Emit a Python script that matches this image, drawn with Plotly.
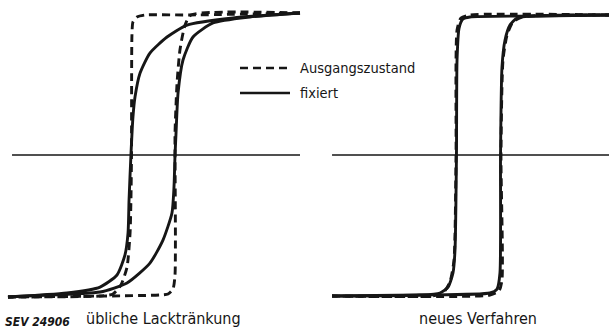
import plotly.graph_objects as go

# 1. data: H (field, arbitrary units) and B (induction, normalized)
FONT = "DejaVu Sans Condensed, Liberation Sans Narrow, Arial Narrow, sans-serif"
INK = "#161616"

# left panel: "übliche Lacktränkung"
left_dash_down_h = [1.019, 0.26, -0.05, -0.105, -0.133, -0.14, -0.143, -0.147, -0.153, -0.174, -0.216, -0.271, -0.36, -0.995]
left_dash_down_b = [1.0, 0.986, 0.986, 0.972, 0.937, 0.845, 0.0, -0.317, -0.549, -0.789, -0.915, -0.979, -0.993, -1.0]
left_dash_up_h = [-0.995, 0.053, 0.109, 0.143, 0.157, 0.157, 0.157, 0.171, 0.191, 0.226, 0.267, 1.019]
left_dash_up_b = [-1.0, -0.986, -0.979, -0.944, -0.845, 0.0, 0.155, 0.507, 0.739, 0.915, 0.986, 1.0]

left_fix_down_h = [1.019, 0.557, 0.24, 0.102, -0.016, -0.084, -0.119, -0.133, -0.147, -0.16, -0.167, -0.188, -0.243, -0.36, -0.588, -0.995]
left_fix_down_b = [1.0, 0.965, 0.915, 0.831, 0.718, 0.577, 0.408, 0.268, 0.0, -0.317, -0.549, -0.704, -0.845, -0.93, -0.972, -1.0]
left_fix_up_h = [-0.995, -0.822, -0.36, -0.174, -0.016, 0.074, 0.136, 0.15, 0.157, 0.164, 0.178, 0.212, 0.281, 0.419, 0.674, 1.019]
left_fix_up_b = [-1.0, -0.99, -0.965, -0.901, -0.761, -0.599, -0.408, -0.225, 0.0, 0.155, 0.437, 0.669, 0.831, 0.93, 0.972, 1.0]

# right panel: "neues Verfahren"
right_dash_down_h = [0.9, -0.059, -0.121, -0.148, -0.155, -0.169, -0.197, -0.245, -0.321, -1.01]
right_dash_down_b = [0.986, 0.986, 0.965, 0.88, 0.0, -0.739, -0.894, -0.972, -0.993, -0.993]
right_dash_up_h = [-1.01, 0.079, 0.141, 0.162, 0.155, 0.169, 0.197, 0.238, 0.3, 0.9]
right_dash_up_b = [-0.993, -0.986, -0.958, -0.88, 0.0, 0.669, 0.845, 0.937, 0.972, 0.986]

right_fix_down_h = [0.9, 0.403, -0.059, -0.107, -0.134, -0.148, -0.152, -0.162, -0.176, -0.21, -0.266, -0.403, -1.01]
right_fix_down_b = [0.986, 0.979, 0.972, 0.958, 0.894, 0.669, 0.0, -0.669, -0.831, -0.93, -0.972, -0.986, -0.993]
right_fix_up_h = [-1.01, -0.403, 0.079, 0.128, 0.148, 0.152, 0.162, 0.183, 0.217, 0.266, 0.403, 0.9]
right_fix_up_b = [-0.993, -0.986, -0.972, -0.944, -0.831, 0.0, 0.62, 0.81, 0.915, 0.965, 0.979, 0.986]

# horizontal (H) axis lines
left_axis_h = [-0.967, 1.019]
right_axis_h = [-1.01, 0.9]

LEGEND_LABELS = ["Ausgangszustand", "fixiert"]
PANEL_LABELS = ["übliche Lacktränkung", "neues Verfahren"]
FIG_ID = "SEV 24906"


# 2. helper for one curve
def curve(h, b, xa, ya, dashed):
    return go.Scatter(
        x=h, y=b, xaxis=xa, yaxis=ya, mode="lines",
        line=dict(color=INK, width=2.9, shape="spline", smoothing=0.6,
                  dash="8px,5px" if dashed else "solid"),
        hoverinfo="skip", showlegend=False,
    )


fig = go.Figure()

# 3. left panel
fig.add_trace(go.Scatter(x=left_axis_h, y=[0, 0], mode="lines", line=dict(color=INK, width=1.3),
                         hoverinfo="skip", showlegend=False))
fig.add_trace(curve(left_dash_down_h, left_dash_down_b, "x", "y", True))
fig.add_trace(curve(left_dash_up_h, left_dash_up_b, "x", "y", True))
fig.add_trace(curve(left_fix_down_h, left_fix_down_b, "x", "y", False))
fig.add_trace(curve(left_fix_up_h, left_fix_up_b, "x", "y", False))

# 4. right panel
fig.add_trace(go.Scatter(x=right_axis_h, y=[0, 0], xaxis="x2", yaxis="y2", mode="lines",
                         line=dict(color=INK, width=1.3), hoverinfo="skip", showlegend=False))
fig.add_trace(curve(right_dash_down_h, right_dash_down_b, "x2", "y2", True))
fig.add_trace(curve(right_dash_up_h, right_dash_up_b, "x2", "y2", True))
fig.add_trace(curve(right_fix_down_h, right_fix_down_b, "x2", "y2", False))
fig.add_trace(curve(right_fix_up_h, right_fix_up_b, "x2", "y2", False))

# 5. legend (drawn by hand, lines + text)
W, H = 609, 329
for i, (label, dash) in enumerate(zip(LEGEND_LABELS, ["8px,5px", "solid"])):
    yy = 1 - (68 + 25 * i) / H
    fig.add_shape(type="line", xref="paper", yref="paper", x0=240 / W, x1=290 / W, y0=yy, y1=yy,
                  line=dict(color=INK, width=2.6, dash=dash))
    fig.add_annotation(x=298 / W, y=yy, xref="paper", yref="paper", text=label, showarrow=False,
                       xanchor="left", yanchor="middle", font=dict(family=FONT, size=14.5, color=INK))

# 6. panel captions
for label, cx in zip(PANEL_LABELS, [163 / W, 478 / W]):
    fig.add_annotation(x=cx, y=1 - 318 / H, xref="paper", yref="paper", text=label, showarrow=False,
                       xanchor="center", yanchor="middle", font=dict(family=FONT, size=16, color=INK))
fig.add_annotation(x=3 / W, y=1 - 322 / H, xref="paper", yref="paper", text="<i><b>" + FIG_ID + "</b></i>",
                   showarrow=False, xanchor="left", yanchor="middle",
                   font=dict(family=FONT, size=12, color=INK))

# 7. axes / layout
y_range = [-174 / 142, 155 / 142]
fig.update_layout(
    width=W, height=H,
    margin=dict(l=0, r=0, t=0, b=0),
    paper_bgcolor="white", plot_bgcolor="white",
    xaxis=dict(domain=[0, 0.5], range=[-1.05, 1.05], visible=False),
    xaxis2=dict(domain=[0.5, 1], range=[-1.2, 0.9], visible=False),
    yaxis=dict(domain=[0, 1], range=y_range, visible=False),
    yaxis2=dict(domain=[0, 1], range=y_range, visible=False, anchor="x2"),
    font=dict(family=FONT),
)

# page has a default body margin; drop it so the figure sits at the top-left corner
fig.write_html("out.html", config={"displayModeBar": False},
               post_script="document.body.style.margin='0';document.body.style.padding='0';")
